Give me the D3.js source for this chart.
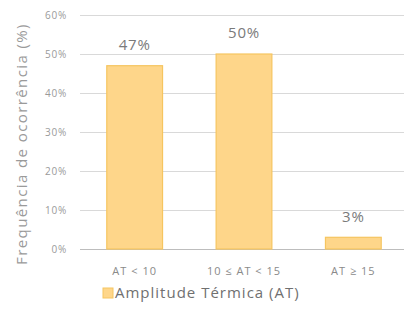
<!DOCTYPE html>
<html>
<head>
<meta charset="utf-8">
<script src="https://cdn.jsdelivr.net/npm/d3@7"></script>
<style>
  html, body { margin: 0; padding: 0; background: #fff; }
  svg { display: block; font-family: "Open Sans", "DejaVu Sans", sans-serif; }
</style>
</head>
<body>
<svg id="chart" width="408" height="329"></svg>
<script>
// Frequency of occurrence by thermal amplitude class
const categories = ["AT < 10", "10 ≤ AT < 15", "AT ≥ 15"];
const values = [47, 50, 3];
const yTicks = [0, 10, 20, 30, 40, 50, 60];
const seriesName = "Amplitude Térmica (AT)";
const yTitle = "Frequência de ocorrência (%)";

const svg = d3.select("#chart");
const margin = { left: 80, right: 0, top: 15, bottom: 80 };
const W = 408, H = 329;

const x = d3.scaleBand()
  .domain(categories)
  .range([margin.left, W - margin.right])
  .paddingInner(0.49)
  .paddingOuter(0.245);

const y = d3.scaleLinear()
  .domain([0, 60])
  .range([H - margin.bottom, margin.top]);

// gridlines
svg.append("g")
  .selectAll("line")
  .data(yTicks)
  .join("line")
  .attr("x1", margin.left)
  .attr("x2", 404)
  .attr("y1", d => Math.round(y(d)) + 0.5)
  .attr("y2", d => Math.round(y(d)) + 0.5)
  .attr("stroke", d => d === 0 ? "#bdbdbd" : "#d9d9d9")
  .attr("stroke-width", 1);

// y tick labels
svg.append("g")
  .selectAll("text")
  .data(yTicks)
  .join("text")
  .attr("x", 67)
  .attr("y", d => y(d))
  .attr("dy", "0.35em")
  .attr("text-anchor", "end")
  .attr("font-size", 10)
  .attr("letter-spacing", 0.8)
  .attr("fill", "#9a9a9a")
  .text(d => d + "%");

// bars
svg.append("g")
  .selectAll("rect")
  .data(values)
  .join("rect")
  .attr("x", (d, i) => x(categories[i]))
  .attr("y", d => y(d))
  .attr("width", x.bandwidth())
  .attr("height", d => y(0) - y(d))
  .attr("fill", "#fed68a")
  .attr("stroke", "#f6c560")
  .attr("stroke-width", 1.2);

// value labels
svg.append("g")
  .selectAll("text")
  .data(values)
  .join("text")
  .attr("x", (d, i) => x(categories[i]) + x.bandwidth() / 2)
  .attr("y", d => y(d) - 21)
  .attr("dy", "0.35em")
  .attr("text-anchor", "middle")
  .attr("font-size", 15)
  .attr("letter-spacing", 0.8)
  .attr("fill", "#7a7a7a")
  .text(d => d + "%");

// category labels
svg.append("g")
  .selectAll("text")
  .data(categories)
  .join("text")
  .attr("x", d => x(d) + x.bandwidth() / 2)
  .attr("y", y(0) + 22)
  .attr("dy", "0.35em")
  .attr("text-anchor", "middle")
  .attr("font-size", 11)
  .attr("letter-spacing", 1)
  .attr("fill", "#8a8a8a")
  .text(d => d);

// y axis title
svg.append("text")
  .attr("transform", `translate(22, ${(y(0) + y(60)) / 2 + 12}) rotate(-90)`)
  .attr("text-anchor", "middle")
  .attr("dy", "0.35em")
  .attr("font-size", 15)
  .attr("letter-spacing", 1.4)
  .attr("fill", "#9a9a9a")
  .text(yTitle);

// legend
const lg = svg.append("g").attr("transform", "translate(103, 293)");
lg.append("rect")
  .attr("x", 0).attr("y", -5)
  .attr("width", 10).attr("height", 10)
  .attr("fill", "#fed68a")
  .attr("stroke", "#f6c560");
lg.append("text")
  .attr("x", 12)
  .attr("y", 0)
  .attr("dy", "0.35em")
  .attr("font-size", 15)
  .attr("letter-spacing", 1)
  .attr("fill", "#707070")
  .text(seriesName);
</script>
</body>
</html>
